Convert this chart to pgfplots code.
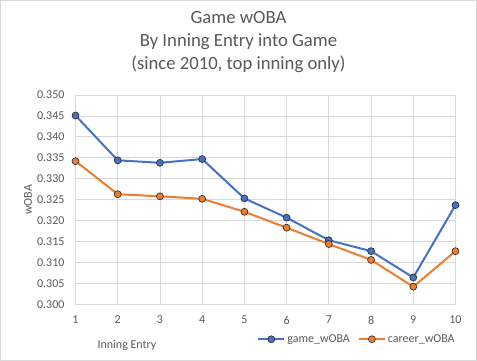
\documentclass[border=0pt]{standalone}
\usepackage{fontspec}
\setmainfont{Carlito}
\usepackage{pgfplots}
\pgfplotsset{compat=1.18}
\definecolor{cblue}{HTML}{4472C4}
\definecolor{corange}{HTML}{ED7D31}
\definecolor{cgrid}{HTML}{D9D9D9}
\definecolor{ctext}{HTML}{595959}
\begin{document}
\begin{tikzpicture}[x=1pt,y=1pt]
\useasboundingbox (0,0) rectangle (477,361);
\draw[cgrid, line width=0.75pt] (0.5,0.5) rectangle (476.5,360.5);
\begin{axis}[
  at={(75.5pt,56.7pt)}, anchor=south west,
  scale only axis, width=380pt, height=209.3pt,
  xmin=1, xmax=10, ymin=0.3, ymax=0.35,
  xtick={1,2,3,4,5,6,7,8,9,10},
  ytick={0.300,0.305,0.310,0.315,0.320,0.325,0.330,0.335,0.340,0.345,0.350},
  grid=major, major grid style={cgrid, line width=0.75pt},
  axis line style={cgrid, line width=0.75pt},
  major tick length=0pt,
  /pgf/number format/assume math mode=true,
  tick label style={font=\fontsize{12}{14}\selectfont, text=ctext},
  yticklabel style={/pgf/number format/.cd, fixed, fixed zerofill, precision=3, /tikz/.cd, anchor=east, xshift=-7.5pt},
  xticklabel style={anchor=center, yshift=-15.7pt},
  ylabel={wOBA},
  ylabel style={at={(rel axis cs:-0.125,0.5)}, anchor=center, font=\fontsize{12}{14}\selectfont, text=ctext},
  xlabel={Inning Entry},
  xlabel style={at={(rel axis cs:0.1355,-0.1945)}, anchor=center, font=\fontsize{12}{14}\selectfont, text=ctext},
  title={Game wOBA\\By Inning Entry into Game\\(since 2010, top inning only)},
  title style={at={(rel axis cs:0.429,1.0955)}, anchor=base, align=center, font=\fontsize{18.67}{23}\selectfont, text=ctext},
  legend columns=2,
  legend style={at={(rel axis cs:0.478,-0.167)}, anchor=west, draw=none, fill=none, inner sep=0pt,
    font=\fontsize{12}{14}\selectfont, text=ctext,
    /tikz/every even column/.append style={column sep=6pt}},
  legend cell align=left,
  legend image code/.code={\draw[mark repeat=2,mark phase=2,#1] plot coordinates {(0pt,0pt) (13pt,0pt) (26pt,0pt)};},
  every axis plot/.append style={line width=2pt, mark=*, mark size=3.5pt},
]
\addplot[cblue, mark options={fill=cblue, draw=black!85, line width=0.6pt}] coordinates {
(1,0.3451) (2,0.3344) (3,0.3338) (4,0.3347) (5,0.3253) (6,0.3207) (7,0.3153) (8,0.3127) (9,0.3064) (10,0.3237)};
\addlegendentry{game\_wOBA}
\addplot[corange, mark options={fill=corange, draw=black!85, line width=0.6pt}] coordinates {
(1,0.3342) (2,0.3263) (3,0.3258) (4,0.3252) (5,0.3221) (6,0.3183) (7,0.3144) (8,0.3106) (9,0.3042) (10,0.3127)};
\addlegendentry{career\_wOBA}
\end{axis}
\end{tikzpicture}
\end{document}
